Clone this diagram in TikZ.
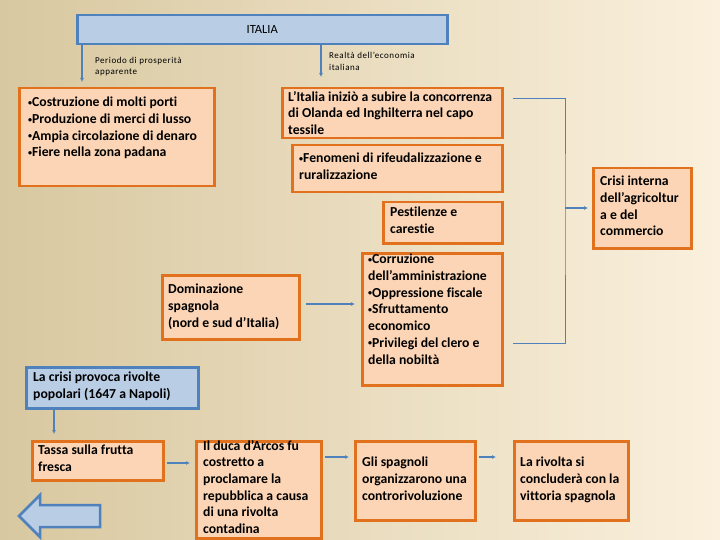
\documentclass[tikz,border=0pt]{standalone}
\usepackage{fontspec}
\setmainfont{Carlito}[Ligatures={NoCommon}]
\newfontfamily\lblfont{Carlito}[LetterSpace=6]
\usetikzlibrary{arrows.meta}
\definecolor{boxfill}{HTML}{FBD5B5}
\definecolor{boxline}{HTML}{E2711D}
\definecolor{bluefill}{HTML}{B9CDE5}
\definecolor{blueline}{HTML}{4F81BD}
\definecolor{bgleft}{HTML}{D8C8A0}
\definecolor{bgmid}{HTML}{F3E7CD}
\definecolor{bgright}{HTML}{FAF0DD}
\newcommand\bul{\raisebox{0.2ex}{\fontsize{8}{8}\selectfont•}}

\begin{document}
\begin{tikzpicture}[x=1pt, y=-1pt,
        obox/.style={draw=boxline, fill=boxfill, line width=2.5pt, anchor=north west, inner sep=0pt},
        bbox/.style={draw=blueline, fill=bluefill, line width=2.5pt, anchor=north west, inner sep=0pt},
        txt/.style={anchor=north west, inner sep=0pt, align=left, font=\fontsize{13.7}{16.7}\selectfont\bfseries},
        small/.style={anchor=north west, inner sep=0pt, align=left, font=\lblfont\fontsize{9}{11.5}\selectfont},
        arr/.style={draw=blueline, line width=1.5pt, -{Latex[length=4pt,width=4pt]}},
        link/.style={draw=blueline, line width=1pt}]
        \useasboundingbox (0,0) rectangle (720,540);
        \shade[left color=bgleft, middle color=bgmid, right color=bgright] (0,0) rectangle (720,540);

        % top
        \node[bbox, minimum width=370pt, minimum height=29pt] (italia) at (76,14) {};
        \node[font=\fontsize{12.5}{14}\selectfont] (italia-t) at (italia.center) {ITALIA};
        \node[small] (prosp-l) at (95,57) {Periodo di prosperità\\apparente};
        \node[small] (real-l) at (329,52) {Realtà dell’economia\\italiana};

        % boxes
        \node[obox, minimum width=195pt, minimum height=98pt] (prosp) at (18,87) {};
        \node[obox, minimum width=220pt, minimum height=50pt] (conc) at (281,87) {};
        \node[obox, minimum width=210pt, minimum height=47pt] (rifeud) at (291,144) {};
        \node[obox, minimum width=119pt, minimum height=41pt] (pest) at (382,201) {};
        \node[obox, minimum width=140pt, minimum height=132pt] (corr) at (361,252) {};
        \node[obox, minimum width=137pt, minimum height=64pt] (dom) at (161,274) {};
        \node[obox, minimum width=98pt, minimum height=80pt] (crisi) at (592,167) {};
        \node[bbox, minimum width=172pt, minimum height=41pt] (rivolte) at (25,366) {};
        \node[obox, minimum width=131pt, minimum height=39pt] (tassa) at (31,440) {};
        \node[obox, minimum width=125pt, minimum height=97pt] (duca) at (195,440) {};
        \node[obox, minimum width=120pt, minimum height=79pt] (spag) at (354,440) {};
        \node[obox, minimum width=114pt, minimum height=79pt] (fine) at (513,440) {};

        % texts
        \node[txt] (prosp-t) at (28,97) {\bul Costruzione di molti porti\\\bul Produzione di merci di lusso\\\bul Ampia circolazione di denaro\\\bul Fiere nella zona padana};
        \node[txt] (conc-t) at (288,91) {L’Italia iniziò a subire la concorrenza\\di Olanda ed Inghilterra nel capo\\tessile};
        \node[txt] (rifeud-t) at (299,153) {\bul Fenomeni di rifeudalizzazione e\\ruralizzazione};
        \node[txt] (pest-t) at (390,207) {Pestilenze e\\carestie};
        \node[txt] (corr-t) at (368,254) {\bul Corruzione\\dell’amministrazione\\\bul Oppressione fiscale\\\bul Sfruttamento\\economico\\\bul Privilegi del clero e\\della nobiltà};
        \node[txt] (dom-t) at (168,284) {Dominazione\\spagnola\\(nord e sud d’Italia)};
        \node[txt] (crisi-t) at (600,176) {Crisi interna\\dell’agricoltur\\a e del\\commercio};
        \node[txt] (rivolte-t) at (33,372) {La crisi provoca rivolte\\popolari (1647 a Napoli)};
        \node[txt] (tassa-t) at (38,445) {Tassa sulla frutta\\fresca};
        \node[txt] (duca-t) at (203,440) {Il duca d’Arcos fu\\costretto a\\proclamare la\\repubblica a causa\\di una rivolta\\contadina};
        \node[txt] (spag-t) at (362,457) {Gli spagnoli\\organizzarono una\\controrivoluzione};
        \node[txt] (fine-t) at (520,457) {La rivolta si\\concluderà con la\\vittoria spagnola};

        % arrows
        \draw[arr, shorten >=5pt] ([xshift=6pt]italia.south west) -- ([xshift=6pt]italia.south west |- prosp.north);
        \draw[arr, shorten >=10pt] ([xshift=245pt]italia.south west) -- ([xshift=245pt]italia.south west |- conc.north);
        \draw[arr, shorten <=5pt, shorten >=6pt] (dom.east |- 0,304) -- (corr.west |- 0,304);

        \coordinate (jtop) at (513,99);
        \coordinate (jmid) at (565,208);
        \coordinate (jbot) at (513,343);
        \draw[link] (jtop) -| (jmid) |- (jbot);
        \draw[arr, shorten >=4pt] (jmid) -- (crisi.west |- jmid);

        \draw[arr, shorten >=6pt] ([xshift=29pt]rivolte.south west) -- ([xshift=29pt]rivolte.south west |- tassa.north);
        \draw[arr, shorten <=2pt, shorten >=5pt] (tassa.east |- 0,463) -- (duca.west |- 0,463);
        \draw[arr, shorten <=2pt, shorten >=5pt] (duca.east |- 0,457) -- (spag.west |- 0,457);
        \draw[arr, shorten <=2pt, shorten >=17pt] (spag.east |- 0,457) -- (fine.west |- 0,457);

        % back arrow
        \draw[draw=blueline, fill=bluefill, line width=2.5pt] (19,516) -- (40,495) -- (40,505) -- (100,505)
            -- (100,527) -- (40,527) -- (40,537) -- cycle;
    \end{tikzpicture}
\end{document}
